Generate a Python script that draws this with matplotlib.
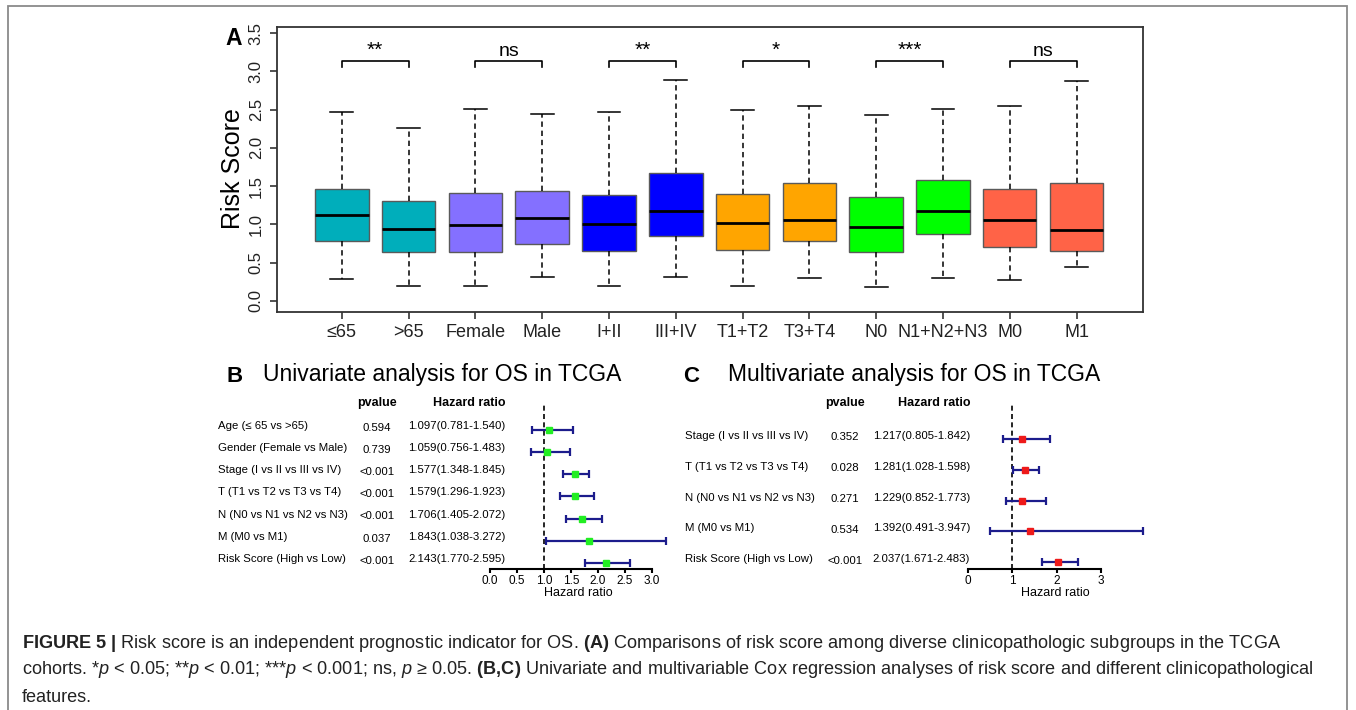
import matplotlib
matplotlib.use('Agg')
import matplotlib.pyplot as plt
import matplotlib.transforms as mtrans
from matplotlib.patches import Rectangle
import numpy as np

plt.rcParams['font.family'] = ['Liberation Sans', 'DejaVu Sans']
plt.rcParams['mathtext.fontset'] = 'custom'
plt.rcParams['mathtext.rm'] = 'Liberation Sans'
plt.rcParams['mathtext.it'] = 'Liberation Sans:italic'
plt.rcParams['mathtext.bf'] = 'Liberation Sans:bold'

# ---------------- data ----------------
groups = ['≤65', '>65', 'Female', 'Male', 'I+II', 'III+IV', 'T1+T2', 'T3+T4',
          'N0', 'N1+N2+N3', 'M0', 'M1']
whis_lo = [0.29, 0.19, 0.19, 0.31, 0.19, 0.31, 0.19, 0.305, 0.185, 0.30, 0.28, 0.45]
q1_vals = [0.79, 0.64, 0.635, 0.74, 0.65, 0.855, 0.67, 0.79, 0.635, 0.87, 0.70, 0.65]
med_vals = [1.12, 0.94, 0.99, 1.08, 1.005, 1.17, 1.02, 1.06, 0.965, 1.17, 1.057, 0.925]
q3_vals = [1.465, 1.30, 1.41, 1.435, 1.38, 1.672, 1.395, 1.54, 1.36, 1.585, 1.46, 1.54]
whis_hi = [2.47, 2.265, 2.515, 2.44, 2.47, 2.885, 2.495, 2.55, 2.43, 2.51, 2.55, 2.875]
box_colors = ['#00AEBB', '#00AEBB', '#8470FF', '#8470FF', '#0000FF', '#0000FF',
              '#FFA500', '#FFA500', '#00FF00', '#00FF00', '#FF6347', '#FF6347']
sig_labels = ['**', 'ns', '**', '*', '***', 'ns']

uni_labels = ['Age (≤ 65 vs >65)', 'Gender (Female vs Male)', 'Stage (I vs II vs III vs IV)',
              'T (T1 vs T2 vs T3 vs T4)', 'N (N0 vs N1 vs N2 vs N3)', 'M (M0 vs M1)',
              'Risk Score (High vs Low)']
uni_p = ['0.594', '0.739', '<0.001', '<0.001', '<0.001', '0.037', '<0.001']
uni_hr = [1.097, 1.059, 1.577, 1.579, 1.706, 1.843, 2.143]
uni_lo = [0.781, 0.756, 1.348, 1.296, 1.405, 1.038, 1.770]
uni_hi = [1.540, 1.483, 1.845, 1.923, 2.072, 3.272, 2.595]

multi_labels = ['Stage (I vs II vs III vs IV)', 'T (T1 vs T2 vs T3 vs T4)',
                'N (N0 vs N1 vs N2 vs N3)', 'M (M0 vs M1)', 'Risk Score (High vs Low)']
multi_p = ['0.352', '0.028', '0.271', '0.534', '<0.001']
multi_hr = [1.217, 1.281, 1.229, 1.392, 2.037]
multi_lo = [0.805, 1.028, 0.852, 0.491, 1.671]
multi_hi = [1.842, 1.598, 1.773, 3.947, 2.483]

caption_lines = [
    r"$\mathbf{FIGURE\ 5\ |}$ Risk score is an independent prognostic indicator for OS. "
    r"$\mathbf{(A)}$ Comparisons of risk score among diverse clinicopathologic subgroups in the TCGA",
    r"cohorts. *$\mathit{p}$ < 0.05; **$\mathit{p}$ < 0.01; ***$\mathit{p}$ < 0.001; ns, "
    r"$\mathit{p}$ ≥ 0.05. $\mathbf{(B{,}C)}$ Univariate and multivariable Cox regression analyses "
    r"of risk score and different clinicopathological",
    "features.",
]

# ---------------- figure ----------------
W, H = 1356, 710
fig = plt.figure(figsize=(W / 100, H / 100), dpi=100)
fig.patch.set_facecolor('white')


def fx(px):
    return px / W


def fy(py):
    return 1 - py / H


# outer frame
fig.add_artist(Rectangle((fx(8), -0.2), fx(1347) - fx(8), fy(6) + 0.2,
                         transform=fig.transFigure, fill=False,
                         edgecolor='#8a8a8a', linewidth=1.3, clip_on=False))

# ---------------- Panel A ----------------
axA = fig.add_axes([fx(277), fy(311.7), fx(1142.7) - fx(277), fy(27) - fy(311.7)])
pos = np.arange(1, len(groups) + 1)
stats = [dict(med=m, q1=a, q3=b, whislo=lo, whishi=hi)
         for m, a, b, lo, hi in zip(med_vals, q1_vals, q3_vals, whis_lo, whis_hi)]
bp = axA.bxp(stats, positions=pos, widths=0.8, patch_artist=True, showfliers=False,
             capwidths=0.34,
             boxprops=dict(edgecolor='#5a5a5a', linewidth=1.0),
             medianprops=dict(color='black', linewidth=2.0),
             whiskerprops=dict(color='black', linestyle=(0, (3.5, 2.5)), linewidth=1.1),
             capprops=dict(color='black', linewidth=1.1))
for patch, c in zip(bp['boxes'], box_colors):
    patch.set_facecolor(c)

axA.set_xlim(0.03, 12.99)
axA.set_ylim(-0.14, 3.58)
axA.set_xticks(pos)
axA.set_xticklabels(groups)
yt = np.arange(0, 3.51, 0.5)
axA.set_yticks(yt)
axA.set_yticklabels(['%.1f' % v for v in yt], rotation=90, va='center')
axA.tick_params(axis='x', length=5, width=1.1, labelsize=13, pad=3.5, colors='#222222')
axA.tick_params(axis='y', length=5, width=1.1, labelsize=12, pad=4.5, colors='#222222')
for sp in axA.spines.values():
    sp.set_linewidth(1.3)
    sp.set_color('#333333')

for k, lab in enumerate(sig_labels):
    x1, x2 = pos[2 * k], pos[2 * k + 1]
    axA.plot([x1, x1, x2, x2], [3.055, 3.13, 3.13, 3.055], color='black', lw=1.2)
    axA.text((x1 + x2) / 2, 3.20, lab, ha='center', va='baseline',
             fontsize=15 if '*' in lab else 14)

fig.text(fx(233), fy(169), 'Risk Score', rotation=90, ha='center', va='center', fontsize=18)
fig.text(fx(233.5), fy(38.5), 'A', ha='center', va='center', fontsize=16.5, fontweight='bold')


# ---------------- Forest plots ----------------
def forest(ax, labels, pvals, hr, lo, hi, x_lab, x_p, x_hr, lab_off, p_off, hr_off,
           marker_color, ticks, tickfmt, xlabel_x, ylim):
    hr = np.asarray(hr)
    lo = np.asarray(lo)
    hi = np.asarray(hi)
    rows = np.arange(len(labels))
    ax.set_xlim(0, 3)
    ax.set_ylim(*ylim)
    for s in ['left', 'right', 'top']:
        ax.spines[s].set_visible(False)
    ax.spines['bottom'].set_linewidth(1.5)
    ax.set_yticks([])
    ax.set_xticks(ticks)
    ax.set_xticklabels([tickfmt % t for t in ticks])
    ax.tick_params(axis='x', direction='out', length=3, width=1.5, labelsize=8.5, pad=0.8)
    ax.patch.set_alpha(0)
    ax.axvline(1, color='black', linestyle=(0, (3, 2)), lw=1.2, zorder=1)
    eb = ax.errorbar(hr, rows, xerr=[hr - lo, hi - hr], fmt='none', ecolor='#1c1c8c',
                     elinewidth=1.6, capsize=2.6, capthick=1.6, zorder=2)
    for a in list(eb.lines[1]) + list(eb.lines[2]):
        a.set_clip_on(False)
    ax.plot(hr, rows, 's', color=marker_color, ms=5, mec=marker_color, zorder=3, clip_on=False)
    ax.set_xlabel('Hazard ratio', fontsize=9)
    ax.xaxis.set_label_coords(xlabel_x, -0.14)
    ax.xaxis.label.set_va('center')

    tr = mtrans.blended_transform_factory(fig.transFigure, ax.transData)
    for r, (lab, p, h, l, u) in enumerate(zip(labels, pvals, hr, lo, hi)):
        ax.text(fx(x_lab), r + lab_off, lab, transform=tr, ha='left', va='center', fontsize=8.2)
        ax.text(fx(x_p), r + p_off, p, transform=tr, ha='center', va='center', fontsize=8.2)
        ax.text(fx(x_hr), r + hr_off, '%.3f(%.3f-%.3f)' % (h, l, u), transform=tr,
                ha='right', va='center', fontsize=8.2)
    ax.text(fx(x_p), ylim[1], 'pvalue', transform=tr, ha='center', va='center',
            fontsize=9, fontweight='bold')
    ax.text(fx(x_hr), ylim[1], 'Hazard ratio', transform=tr, ha='right', va='center',
            fontsize=9, fontweight='bold')


axB = fig.add_axes([fx(490), fy(569.3), fx(651.7) - fx(490), fy(403) - fy(569.3)])
forest(axB, uni_labels, uni_p, uni_hr, uni_lo, uni_hi,
       x_lab=218, x_p=377, x_hr=505.5, lab_off=-0.18, p_off=-0.1, hr_off=-0.18,
       marker_color='#22ee22', ticks=np.arange(0, 3.01, 0.5), tickfmt='%.1f',
       xlabel_x=0.544, ylim=(6.289, -1.219))

axC = fig.add_axes([fx(967.7), fy(569.3), fx(1101) - fx(967.7), fy(403) - fy(569.3)])
forest(axC, multi_labels, multi_p, multi_hr, multi_lo, multi_hi,
       x_lab=685, x_p=845, x_hr=970, lab_off=-0.1, p_off=-0.05, hr_off=-0.1,
       marker_color='#ee1a1a', ticks=np.arange(0, 3.01, 1), tickfmt='%d',
       xlabel_x=0.655, ylim=(4.231, -1.169))

fig.text(fx(235), fy(377), 'B', ha='center', va='center', fontsize=16, fontweight='bold')
fig.text(fx(263), fy(375), 'Univariate analysis for OS in TCGA', ha='left', va='center',
         fontsize=16.5)
fig.text(fx(691.5), fy(377), 'C', ha='center', va='center', fontsize=16, fontweight='bold')
fig.text(fx(728), fy(375), 'Multivariate analysis for OS in TCGA', ha='left', va='center',
         fontsize=16.5)

# ---------------- caption ----------------
for i, line in enumerate(caption_lines):
    fig.text(fx(22), fy(643 + 27 * i), line, ha='left', va='center', fontsize=13.1,
             color='#222222')

fig.savefig('out.png', dpi=100, facecolor='white')
